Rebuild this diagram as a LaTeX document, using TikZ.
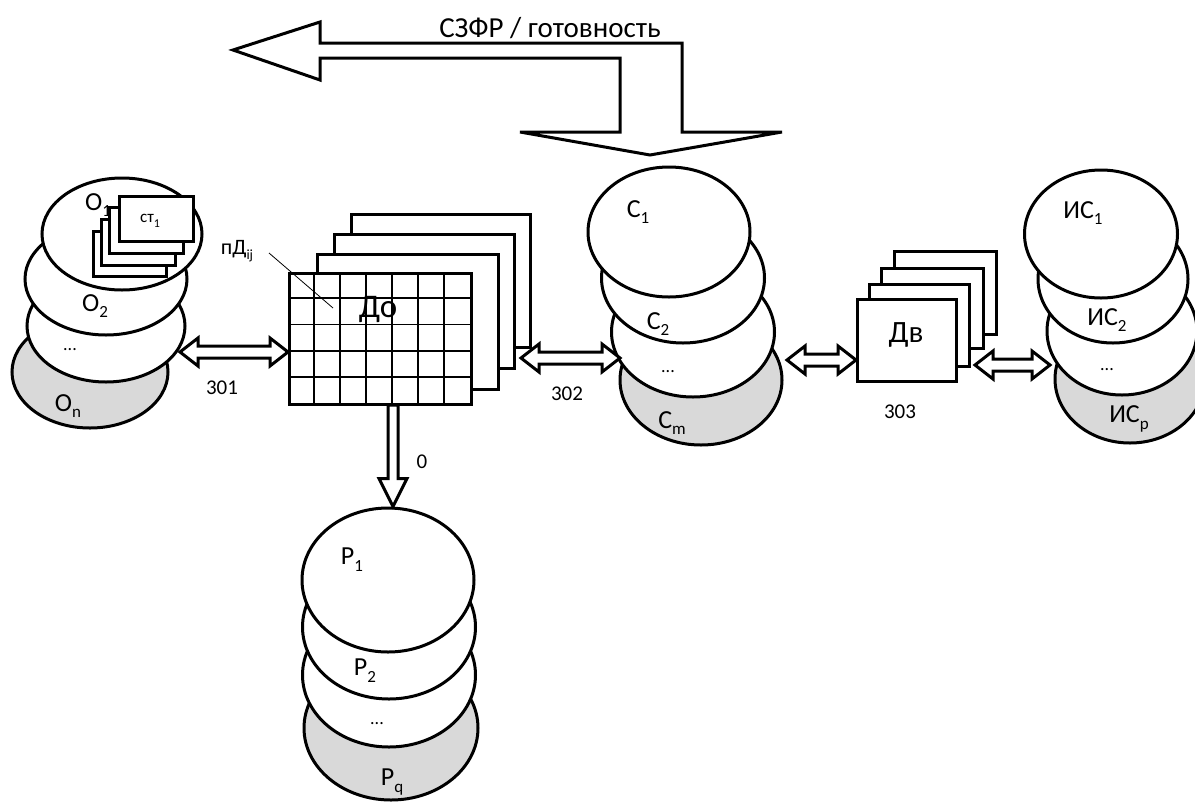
\documentclass[tikz,border=0pt]{standalone}
\usepackage{fontspec}
\setmainfont{Carlito}
\usetikzlibrary{shapes.geometric,calc}
\definecolor{lg}{RGB}{217,217,217}
\newcommand\sbs[2][17]{\raisebox{-0.26em}{\fontsize{#1}{#1}\selectfont #2}}
\newcommand\harrow[2]{%
 \draw[blk] let \p1=(#1), \p2=(#2) in (\x1,\y1) -- (\x1+18pt,\y1+14pt) -- (\x1+18pt,\y1+6pt) -- (\x2-18pt,\y1+6pt) -- (\x2-18pt,\y1+14pt) -- (\x2,\y1) -- (\x2-18pt,\y1-14pt) -- (\x2-18pt,\y1-6pt) -- (\x1+18pt,\y1-6pt) -- (\x1+18pt,\y1-14pt) -- cycle;}
\begin{document}
\begin{tikzpicture}[x=1pt,y=-1pt,
 stk/.style={ellipse, draw, line width=3pt, fill=white, inner sep=0pt},
 stkg/.style={stk, fill=lg},
 lbl/.style={font=\fontsize{26}{26}\selectfont, inner sep=0pt},
 dots/.style={font=\fontsize{18}{18}\selectfont, inner sep=0pt},
 num/.style={font=\fontsize{21}{21}\selectfont, inner sep=0pt},
 card/.style={draw, line width=3pt, fill=white, inner sep=0pt, anchor=north west},
 blk/.style={draw, line width=3pt, fill=white, line join=miter}
]
\useasboundingbox[fill=white] (0,0) rectangle (1195,807);

% ---- top feedback arrow
\draw[blk] (233,50) -- (320,22) -- (320,43) -- (682,43) -- (682,132) -- (782,132)
  -- (650,155) -- (520,132) -- (620,132) -- (620,58) -- (320,58) -- (320,80) -- cycle;
\node[font=\fontsize{29}{29}\selectfont, inner sep=0pt, anchor=base] (fb) at (550,37) {СЗФР / готовность};

% ---- O stack
\node[stkg, minimum width=156pt, minimum height=112pt] (on) at (90,372) {};
\node[stk, minimum width=158pt, minimum height=112pt] (odots) at (106,326) {};
\node[stk, minimum width=162pt, minimum height=112pt] (o2) at (106,279) {};
\node[stk, minimum width=160pt, minimum height=112pt] (o1) at (122,234) {};
\node[lbl] (o1l) at (98,205) {O\sbs{1}};
\node[lbl] (o2l) at (95,306) {O\sbs{2}};
\node[dots] (odl) at (70,350) {...};
\node[lbl] (onl) at (68,406) {O\sbs{n}};
% st cards
\node[card, minimum width=73pt, minimum height=45pt] (st4) at (92,230) {};
\node[card, minimum width=74pt, minimum height=46pt] (st3) at (100,218) {};
\node[card, minimum width=74pt, minimum height=46pt] (st2) at (108,206) {};
\node[card, minimum width=74pt, minimum height=45pt] (st1) at (118,195) {};
\node[font=\fontsize{17}{17}\selectfont, inner sep=0pt] (stl) at (150,221) {ст\sbs[12]{1}};

% ---- Do stack
\node[card, minimum width=179pt, minimum height=133pt] (do4) at (350,213) {};
\node[card, minimum width=180pt, minimum height=134pt] (do3) at (333,233) {};
\node[card, minimum width=181pt, minimum height=135pt] (do2) at (316,253) {};
\node[card, minimum width=182pt, minimum height=131pt] (do) at (288,272) {};
\foreach \i in {1,...,6}
  \draw[line width=1.8pt] ($(do.north west)+(\i*26,0)$) -- ($(do.south west)+(\i*26,0)$);
\foreach \j in {1,...,4}
  \draw[line width=1.8pt] ($(do.north west)+(0,\j*26.2)$) -- ($(do.north east)+(0,\j*26.2)$);
\node[font=\fontsize{33}{33}\selectfont, inner sep=0pt] (dol) at (378,309) {До};
\node[font=\fontsize{22}{22}\selectfont, inner sep=0pt] (pd) at (237,251) {пД\sbs[14]{ij}};
\coordinate (pdtip) at (269,253);
\coordinate (pdcell) at (333,308);
\draw[line width=0.8pt] (pdtip) -- (pdcell);

% ---- C stack
\node[stkg, minimum width=162pt, minimum height=130pt] (cm) at (701,380) {};
\node[stk, minimum width=163pt, minimum height=130pt] (cdots) at (693,332) {};
\node[stk, minimum width=163pt, minimum height=130pt] (c2) at (683,278) {};
\node[stk, minimum width=162pt, minimum height=130pt] (c1) at (669,232) {};
\node[lbl] (c1l) at (638,212) {C\sbs{1}};
\node[lbl] (c2l) at (658,324) {C\sbs{2}};
\node[dots] (cdl) at (668,372) {...};
\node[lbl] (cml) at (672,423) {C\sbs{m}};

% ---- Dv stack
\node[card, minimum width=102pt, minimum height=83pt] (dv4) at (893,250) {};
\node[card, minimum width=102pt, minimum height=80pt] (dv3) at (880,267) {};
\node[card, minimum width=100pt, minimum height=82pt] (dv2) at (868,283) {};
\node[card, minimum width=99pt, minimum height=82pt] (dv) at (856,298) {};
\node[font=\fontsize{31}{31}\selectfont, inner sep=0pt] (dvl) at (906,335) {Дв};

% ---- IS stack
\node[stkg, minimum width=150pt, minimum height=128pt] (isp) at (1130,379) {};
\node[stk, minimum width=150pt, minimum height=128pt] (isdots) at (1122,331) {};
\node[stk, minimum width=150pt, minimum height=128pt] (is2) at (1113,279) {};
\node[stk, minimum width=153pt, minimum height=128pt] (is1) at (1101,234) {};
\node[lbl] (is1l) at (1083,213) {ИС\sbs{1}};
\node[lbl] (is2l) at (1107,320) {ИС\sbs{2}};
\node[dots] (isdl) at (1107,370) {...};
\node[lbl] (ispl) at (1129,419) {ИС\sbs{p}};

% ---- P stack
\node[stkg, minimum width=174pt, minimum height=144pt] (pq) at (391,728) {};
\node[stk, minimum width=173pt, minimum height=144pt] (pdots) at (389,675) {};
\node[stk, minimum width=173pt, minimum height=144pt] (p2) at (389,627) {};
\node[stk, minimum width=172pt, minimum height=144pt] (p1) at (388,580) {};
\node[lbl] (p1l) at (352,560) {P\sbs{1}};
\node[lbl] (p2l) at (365,671) {P\sbs{2}};
\node[dots] (pdl) at (377,724) {...};
\node[lbl] (pql) at (392,782) {P\sbs{q}};

% ---- double arrows
\coordinate (a301) at (180,352);
\harrow{a301}{do.west |- a301}
\coordinate (a302l) at (521,358);
\coordinate (a302r) at (620,358);
\harrow{a302l}{a302r}
\coordinate (a303) at (787,360);
\harrow{a303}{dv.west |- a303}
\coordinate (a304l) at (975,365);
\coordinate (a304r) at (1050,365);
\harrow{a304l}{a304r}

% ---- down arrow 0
\coordinate (a0) at (393,405);
\draw[blk] let \p1=(a0), \p2=(a0 |- p1.north) in
  (\x1-5pt,\y1) -- (\x1+5pt,\y1) -- (\x1+5pt,\y2+28pt) -- (\x1+14pt,\y2+28pt) -- (\x1,\y2)
  -- (\x1-14pt,\y2+28pt) -- (\x1-5pt,\y2+28pt) -- cycle;

% ---- numbers
\node[num] (n301) at (222,388) {301};
\node[num] (n302) at (567,394) {302};
\node[num] (n303) at (900,412) {303};
\node[num] (n0) at (422,462) {0};
\end{tikzpicture}
\end{document}
